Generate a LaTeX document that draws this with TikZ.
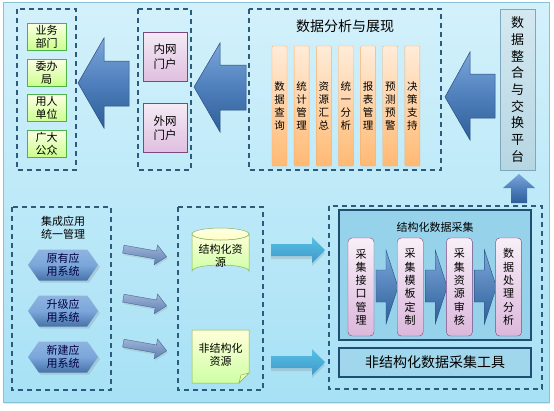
\documentclass[tikz,border=0pt]{standalone}
\usepackage{fontspec}
\setmainfont{Noto Sans CJK SC}
\usetikzlibrary{shapes.symbols,shadows,positioning}

\definecolor{panelTop}{HTML}{D3F1FB}
\definecolor{panelBot}{HTML}{A7E1F5}
\definecolor{panelLine}{HTML}{88C2D8}
\definecolor{dashLine}{HTML}{2C5B7C}
\definecolor{arrowTop}{HTML}{7BA6DA}
\definecolor{arrowMid}{HTML}{4F7FBC}
\definecolor{arrowBot}{HTML}{2E5F99}
\definecolor{arrowLine}{HTML}{274F80}
\definecolor{grayTop}{HTML}{9DB3D6}
\definecolor{grayBot}{HTML}{5E7FB3}
\definecolor{hubTop}{HTML}{D4E8F0}
\definecolor{hubBot}{HTML}{B6D6E3}
\definecolor{hubLine}{HTML}{7FA8BC}
\definecolor{collectFill}{HTML}{96D2EA}
\definecolor{collectLine}{HTML}{1E4F73}

\newcommand{\txtsize}[2]{\fontsize{#1}{#2}\selectfont}

\tikzset{
  dashbox/.style={draw=dashLine, line width=1.4pt, dash pattern=on 5pt off 4pt},
  greenbox/.style={rectangle, draw=green!40!gray, top color=green!8!yellow!10, bottom color=green!45!yellow!45,
    minimum width=39, minimum height=27, inner sep=0pt, align=center, font=\txtsize{11}{13}},
  portal/.style={rectangle, draw=violet!45!gray, top color=violet!8, bottom color=violet!25,
    minimum width=44, minimum height=49, inner sep=0pt, align=center, font=\txtsize{11.5}{14.5}},
  bar/.style={rectangle, rounded corners=1pt, draw=orange!60!brown!60, top color=orange!15, bottom color=orange!55,
    minimum width=15, minimum height=120, inner sep=0pt, align=center, font=\txtsize{10.5}{13}},
  stepbar/.style={rectangle, rounded corners=4pt, draw=violet!45!gray, top color=violet!6, bottom color=violet!28,
    minimum width=26, minimum height=98, inner sep=0pt, align=center, font=\txtsize{11}{13.3}},
  hexa/.style={signal, signal to=west and east, signal pointer angle=110, top color=arrowTop!85!white,
    bottom color=arrowMid!90!black, middle color=arrowTop, minimum width=70, minimum height=31, inner sep=0pt, align=center,
    text=black!75!blue, font=\txtsize{11}{13}, drop shadow={opacity=0.25, shadow xshift=2pt, shadow yshift=-2pt}},
  blockarrow/.style={top color=arrowTop, bottom color=arrowBot, middle color=arrowMid, draw=arrowLine, line width=0.5pt},
  grayarrow/.style={top color=grayTop, bottom color=grayBot, draw=grayBot!80!black, line width=0.4pt,
    drop shadow={opacity=0.2, shadow xshift=1pt, shadow yshift=-2pt}},
  flowarrow/.style={top color=arrowTop!70!cyan, bottom color=arrowMid!80!cyan, draw=none,
    drop shadow={opacity=0.25, shadow xshift=0pt, shadow yshift=-3pt}},
  chevron/.style={top color=arrowTop, bottom color=arrowBot, draw=arrowLine, line width=0.4pt},
  ylw/.style={top color=yellow!15!white, bottom color=yellow!45!green!35, draw=yellow!40!green!60!gray, line width=0.5pt},
}

\begin{document}
\begin{tikzpicture}[x=1pt, y=-1pt]
  \useasboundingbox (0,0) rectangle (554,410);
  % background panel
  \draw[panelLine, top color=panelTop, bottom color=panelBot, drop shadow={opacity=0.2, shadow xshift=1pt, shadow yshift=-2pt}]
    (3,2) rectangle (549,402);

  % top row: users, portals, analysis
  \draw[dashbox] (17,9) rectangle (76,170);
  \node[greenbox] (yewu) at (46.5,36.5) {业务\\部门};
  \node[greenbox] (weiban) at (46.5,72.5) {委办\\局};
  \node[greenbox] (yongren) at (46.5,108) {用人\\单位};
  \node[greenbox] (gongzhong) at (46.5,143.5) {广大\\公众};

  \draw[blockarrow] (78,83) -- (104,38) -- (104,61) -- (129,61) -- (129,106) -- (104,106) -- (104,128) -- cycle;

  \draw[dashbox] (138,9) rectangle (191,170);
  \node[portal] (neiwang) at (165,56.5) {内网\\门户};
  \node[portal] (waiwang) at (165,128) {外网\\门户};

  \draw[blockarrow] (194,87) -- (220,43) -- (220,65) -- (246,65) -- (246,110) -- (220,110) -- (220,132) -- cycle;

  \draw[dashbox] (249,9) rectangle (441,170);
  \node[font=\txtsize{14}{16}] (fenxi) at (345,26) {数据分析与展现};
  \foreach \t [count=\i from 0] in {{数\\据\\查\\询},{统\\计\\管\\理},{资\\源\\汇\\总},{统\\一\\分\\析},
      {报\\表\\管\\理},{预\\测\\预\\警},{决\\策\\支\\持}}
    \node[bar] (bar\i) at (279.5+22.15*\i,106) {\t};

  \draw[blockarrow] (445,97) -- (470,52) -- (470,74) -- (495,74) -- (495,118) -- (470,118) -- (470,140) -- cycle;

  \node[rectangle, draw=hubLine, top color=hubTop, bottom color=hubBot,
    minimum width=35, minimum height=161, inner sep=0pt, align=center, font=\txtsize{13}{16.7}] (pingtai) at (517.5,89.5)
    {数\\据\\整\\合\\与\\交\\换\\平\\台};
  \draw[blockarrow, draw=none] (519,174) -- (535,188) -- (527,188) -- (527,203) -- (511,203) -- (511,188) -- (503,188) -- cycle;

  % bottom row: applications, resources, collection
  \draw[dashbox] (12,207) rectangle (111,390);
  \node[align=center, font=\txtsize{11}{12.5}] (jicheng) at (63,228) {集成应用\\统一管理};
  \node[hexa] (yuanyou) at (63,265) {原有应\\用系统};
  \node[hexa] (shengji) at (63,311) {升级应\\用系统};
  \node[hexa] (xinjian) at (63,357) {新建应\\用系统};

  \foreach \c in {253,302,347}
    \draw[grayarrow, rotate around={-10:(145,\c)}]
      (123,\c-4) -- (156,\c-4) -- (156,\c-10) -- (167,\c) -- (156,\c+10) -- (156,\c+4) -- (123,\c+4) -- cycle;

  \draw[dashbox] (178,207) rectangle (263,390);
  % cylinder
  \draw[ylw] (192,234) -- (192,271) arc[start angle=180, end angle=360, x radius=28.5, y radius=6]
    -- (249,234) arc[start angle=0, end angle=180, x radius=28.5, y radius=6] -- cycle;
  \draw[ylw, top color=yellow!8!white, bottom color=yellow!25!white] (220.5,234) ellipse[x radius=28.5, y radius=6];
  \node[align=center, font=\txtsize{11}{13}] (jiegou) at (220.5,256) {结构化资\\源};
  % note
  \draw[ylw] (192,330) -- (249,330) -- (249,373) -- (239,383) -- (192,383) -- cycle;
  \draw[ylw, top color=yellow!30!white, bottom color=yellow!50!green!40] (249,373) -- (241,375) -- (239,383) -- cycle;
  \node[align=center, font=\txtsize{11}{13}] (feijiegou) at (220.5,355) {非结构化\\资源};

  \foreach \c in {250,362}
    \draw[flowarrow] (271,\c-6) -- (312,\c-6) -- (312,\c-13) -- (325,\c) -- (312,\c+13) -- (312,\c+6) -- (271,\c+6) -- cycle;

  \draw[dashbox] (329,206) rectangle (542,389);
  \draw[draw=collectLine, line width=1.3pt, fill=collectFill] (339,210) rectangle (531,340);
  \node[font=\txtsize{11}{13}] (caiji) at (435,227) {结构化数据采集};
  \foreach \i in {0,1,2}
    \draw[chevron] (376+49.2*\i,270) -- (386+49.2*\i,270) -- (386+49.2*\i,250) -- (398+49.2*\i,287)
      -- (386+49.2*\i,324) -- (386+49.2*\i,302) -- (376+49.2*\i,302) -- cycle;
  \foreach \t [count=\i from 0] in {{采\\集\\接\\口\\管\\理},{采\\集\\模\\板\\定\\制},{采\\集\\资\\源\\审\\核},{数\\据\\处\\理\\分\\析}}
    \node[stepbar] (step\i) at (361+49.2*\i,287) {\t};
  \node[rectangle, draw=collectLine, line width=1.3pt, fill=collectFill!90!white, minimum width=192,
    minimum height=29, inner sep=0pt, font=\txtsize{14}{16}] (gongju) at (435,362.5) {非结构化数据采集工具};
\end{tikzpicture}
\end{document}
